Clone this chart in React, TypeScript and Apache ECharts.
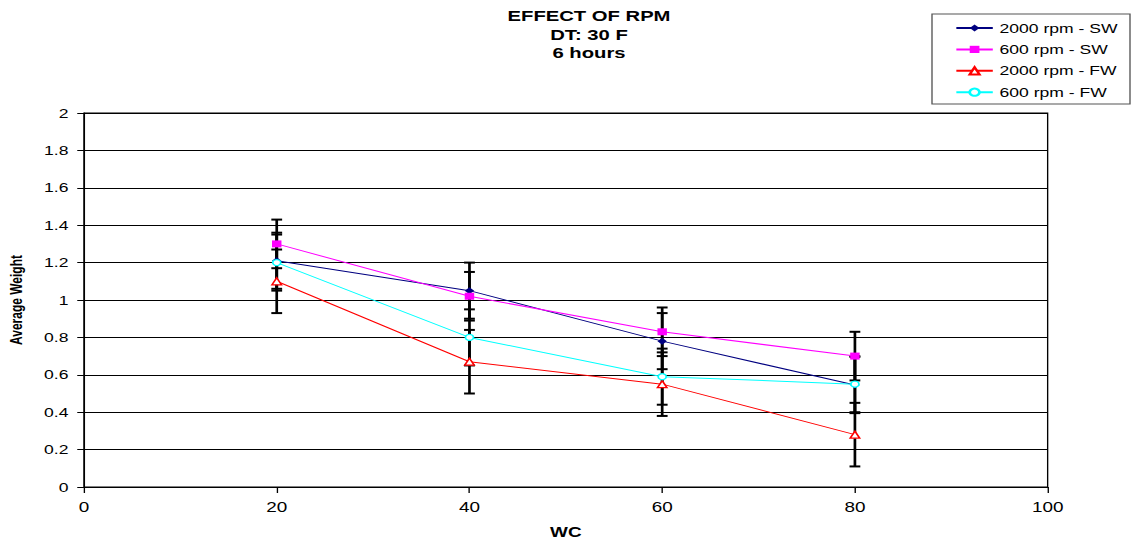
import React, { useEffect, useRef } from "react";
import * as echarts from "echarts";

const xValues = [20, 40, 60, 80];
const seriesNames = ["2000 rpm - SW", "600 rpm - SW", "2000 rpm - FW", "600 rpm - FW"];
const sw2000 = [1.21, 1.05, 0.78, 0.545];
const sw600 = [1.3, 1.02, 0.83, 0.7];
const fw2000 = [1.1, 0.67, 0.55, 0.28];
const fw600 = [1.2, 0.8, 0.59, 0.55];
const sw2000Err = [0.15, 0.15, 0.15, 0.15];
const sw600Err = [0.13, 0.13, 0.13, 0.13];
const fw2000Err = [0.17, 0.17, 0.17, 0.17];
const fw600Err = [0.15, 0.15, 0.15, 0.15];
const titleLines = ["EFFECT OF RPM", "DT: 30 F", "6 hours"];

const FONT = "Liberation Sans, Arial, sans-serif";
// the reference is a horizontally stretched picture; draw narrower and stretch
const PAGE_W = 1132;
const PAGE_H = 541;
const S = 1.35;
const W = PAGE_W / S;
const sx = (px: number) => px / S;

export default function App() {
  const ref = useRef<HTMLDivElement>(null);
  useEffect(() => {
    document.body.style.margin = "0";
    const chart = echarts.init(ref.current!, null, { renderer: "svg" });
    const valuesList = [sw2000, sw600, fw2000, fw600];
    const errList = [sw2000Err, sw600Err, fw2000Err, fw600Err];
    const colors = ["#000080", "#FF00FF", "#FF0000", "#00FFFF"];
    const symbols = ["diamond", "rect", "triangle", "circle"];
    const filled = [true, true, false, false];
    const sizes = [7, 7, 7, 6];

    const errData: number[][] = [];
    valuesList.forEach((vals, si) => {
      vals.forEach((v, i) => errData.push([xValues[i], v, errList[si][i]]));
    });

    const lineSeries = valuesList.map((vals, si) => ({
      name: seriesNames[si],
      type: "line",
      data: vals.map((v, i) => [xValues[i], v]),
      symbol: symbols[si],
      symbolSize: sizes[si],
      showAllSymbol: true,
      color: colors[si],
      lineStyle: { color: colors[si], width: 1 },
      itemStyle: filled[si]
        ? { color: colors[si] }
        : { color: "#fff", borderColor: colors[si], borderWidth: 1.3 },
      z: 3,
    }));

    const option: any = {
      animation: false,
      backgroundColor: "#fff",
      textStyle: { fontFamily: FONT },
      title: {
        text: titleLines.join("\n"),
        left: sx(589),
        top: 7,
        padding: 0,
        textAlign: "center",
        textStyle: { fontFamily: FONT, fontSize: 15, fontWeight: "bold", color: "#000", lineHeight: 18.5 },
      },
      legend: {
        data: seriesNames,
        orient: "vertical",
        left: sx(955),
        top: 21.5,
        padding: 0,
        itemWidth: 27,
        itemHeight: 9,
        itemGap: 8.4,
        textStyle: { fontFamily: FONT, fontSize: 13, color: "#000" },
      },
      graphic: [
        {
          type: "rect",
          shape: { x: sx(932), y: 14, width: sx(198), height: 90 },
          style: { fill: "none", stroke: "#555", lineWidth: 1 },
        },
      ],
      grid: {
        left: sx(84),
        right: sx(PAGE_W - 1047),
        top: 113,
        bottom: PAGE_H - 487,
        containLabel: false,
        outerBoundsMode: "none",
        show: true,
        borderColor: "#000",
        borderWidth: 1,
      },
      xAxis: {
        type: "value",
        min: 0,
        max: 100,
        interval: 20,
        name: "WC",
        nameLocation: "middle",
        nameGap: 38,
        nameTextStyle: { fontFamily: FONT, fontSize: 14, fontWeight: "bold", color: "#000" },
        axisLine: { lineStyle: { color: "#000", width: 1 } },
        axisTick: { show: true, length: 6, lineStyle: { color: "#000" } },
        axisLabel: { fontFamily: FONT, fontSize: 14, color: "#000", margin: 13 },
        splitLine: { show: false },
      },
      yAxis: {
        type: "value",
        min: 0,
        max: 2,
        interval: 0.2,
        name: "Average Weight",
        nameLocation: "middle",
        nameGap: 44,
        nameTextStyle: { fontFamily: FONT, fontSize: 12, fontWeight: "bold", color: "#000" },
        axisLine: { show: true, lineStyle: { color: "#000", width: 1 } },
        axisTick: { show: true, length: 5, lineStyle: { color: "#000" } },
        axisLabel: { fontFamily: FONT, fontSize: 13, color: "#000", margin: 11.5 },
        splitLine: { show: true, lineStyle: { color: "#000", width: 1 } },
      },
      series: [
        {
          name: "errors",
          type: "custom",
          z: 2,
          data: errData,
          encode: { x: 0, y: 1 },
          renderItem: (params: any, api: any) => {
            const x = api.value(0);
            const y = api.value(1);
            const e = api.value(2);
            const hi = api.coord([x, y + e]);
            const lo = api.coord([x, y - e]);
            const w = 4;
            const st = { stroke: "#000", lineWidth: 2 };
            return {
              type: "group",
              children: [
                { type: "line", shape: { x1: hi[0], y1: hi[1], x2: lo[0], y2: lo[1] }, style: st },
                { type: "line", shape: { x1: hi[0] - w, y1: hi[1], x2: hi[0] + w, y2: hi[1] }, style: st },
                { type: "line", shape: { x1: lo[0] - w, y1: lo[1], x2: lo[0] + w, y2: lo[1] }, style: st },
              ],
            };
          },
        },
        ...lineSeries,
      ],
    };
    chart.setOption(option);
    return () => chart.dispose();
  }, []);
  return (
    <div
      style={{
        position: "fixed",
        left: 0,
        top: 0,
        width: PAGE_W,
        height: PAGE_H,
        overflow: "hidden",
        background: "#fff",
      }}
    >
      <div
        ref={ref}
        style={{
          width: W,
          height: PAGE_H,
          transform: `scaleX(${S})`,
          transformOrigin: "0 0",
        }}
      />
    </div>
  );
}
